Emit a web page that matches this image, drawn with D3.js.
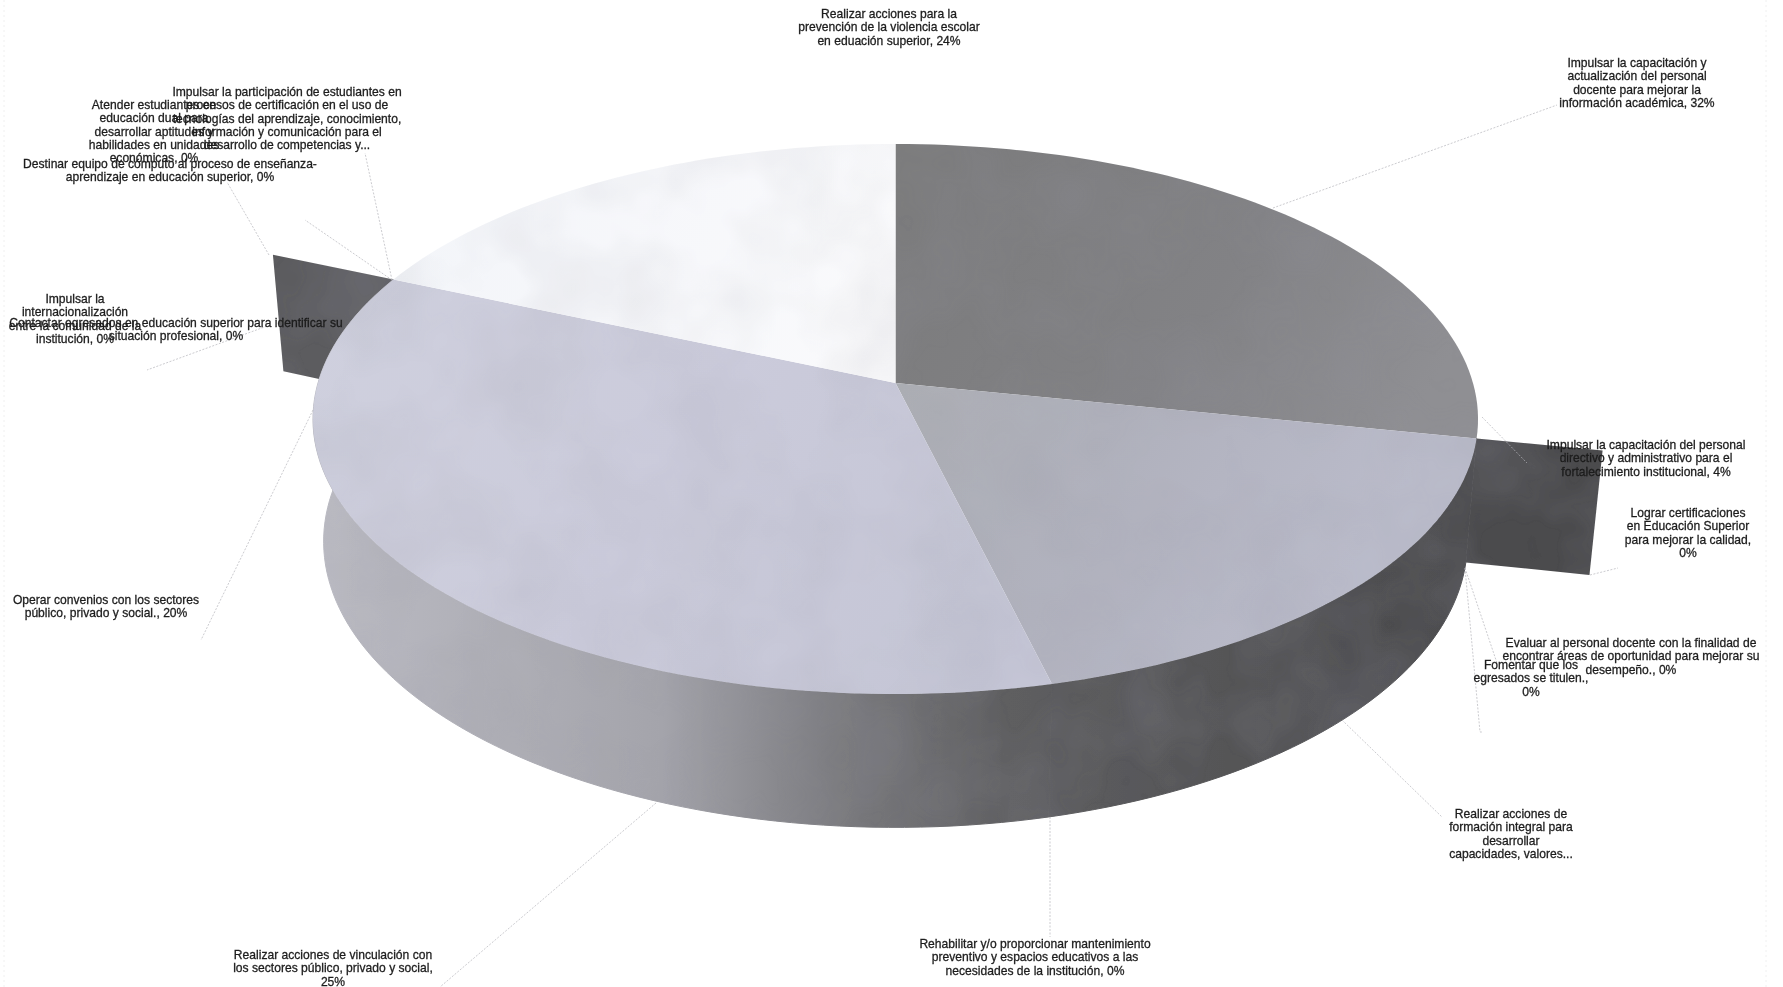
<!DOCTYPE html>
<html lang="es">
<head>
<meta charset="utf-8">
<title>Acciones</title>
<script src="https://cdn.jsdelivr.net/npm/d3@7"></script>
<style>
	html, body { margin: 0; padding: 0; background: #fff; }
	svg { display: block; }
	text { font-family: "Liberation Sans", Arial, sans-serif; font-size: 12.1px; fill: #1c1c1c; text-anchor: middle; stroke: #1c1c1c; stroke-width: 0.28px; }
</style>
</head>
<body>
<div id="chart"></div>
<script>
// slices, clockwise from 12 o'clock. shares are read off the drawn angles,
// the printed percentages on the labels do not add up to the same thing
var sliceNames = [
	"Impulsar la capacitación y actualización del personal docente",
	"Impulsar la capacitación del personal directivo y administrativo",
	"Realizar acciones de formación integral",
	"Realizar acciones de vinculación",
	"Destinar equipo de cómputo",
	"Realizar acciones para la prevención de la violencia escolar"
];
var sliceShares = [28.2, 0, 18.0, 35.4, 0, 18.4];

var labelLines = [
	["Realizar acciones para la", "prevención de la violencia escolar", "en eduación superior, 24%"],
	["Impulsar la capacitación y", "actualización del personal", "docente para mejorar la", "información académica, 32%"],
	["Atender estudiantes en", "educación dual para", "desarrollar aptitudes y", "habilidades en unidades", "económicas, 0%"],
	["Impulsar la participación de estudiantes en", "procesos de certificación en el uso de", "tecnologías del aprendizaje, conocimiento,", "información y comunicación para el", "desarrollo de competencias y..."],
	["Destinar equipo de cómputo al proceso de enseñanza-", "aprendizaje en educación superior, 0%"],
	["Impulsar la", "internacionalización", "entre la comunidad de la", "institución, 0%"],
	["Contactar egresados en educación superior para identificar su", "situación profesional, 0%"],
	["Operar convenios con los sectores", "público, privado y social., 20%"],
	["Realizar acciones de vinculación con", "los sectores público, privado y social,", "25%"],
	["Rehabilitar y/o proporcionar mantenimiento", "preventivo y espacios educativos a las", "necesidades de la institución, 0%"],
	["Realizar acciones de", "formación integral para", "desarrollar", "capacidades, valores..."],
	["Impulsar la capacitación del personal", "directivo y administrativo para el", "fortalecimiento institucional, 4%"],
	["Lograr certificaciones", "en Educación Superior", "para mejorar la calidad,", "0%"],
	["Evaluar al personal docente con la finalidad de", "encontrar áreas de oportunidad para mejorar su", "desempeño., 0%"],
	["Fomentar que los", "egresados se titulen.,", "0%"]
];

// layout, kept apart from the data above
var width = 1783, height = 987;
var cx = 895.5, cy = 383;
var radiusX = 577.5, radiusY = 270.3;
var tiltK = 0.131, depthM = 0.0183, depthY = 124;
var lineGap = 13.2;

var sliceExplode = [1, 1.21, 1, 1, 1.256, 1];
var sliceFill = ["url(#faceDark)", "#4b4b4d", "url(#faceMid)", "url(#faceLav)", "#5c5c5e", "url(#faceWhite)"];

// center x and y of first line, same order as labelLines
var labelAt = [
	[889, 14], [1637, 63], [154, 105], [287, 92], [170, 164], [75, 299], [176, 323], [106, 600],
	[333, 955], [1035, 944], [1511, 814], [1646, 445], [1688, 513], [1631, 643], [1531, 665]
];

var leaders = [
	[[1273, 208], [1557, 105]],
	[[392, 280], [365, 153]],
	[[392, 280], [305, 220]],
	[[269, 255], [227, 182]],
	[[270, 325], [147, 370]],
	[[313, 410], [201, 640]],
	[[656, 803], [440, 987]],
	[[1050, 817], [1050, 937]],
	[[1342, 720], [1442, 817]],
	[[1482, 417], [1527, 463]],
	[[1590, 575], [1618, 568]],
	[[1465, 568], [1497, 663]],
	[[1465, 568], [1480, 732], [1483, 732]]
];

// perspective: top plane of the pie is at depth 0, the bottom plane at depth 1
function project(angle, r, depth) {
	var X = Math.sin(angle) * r;
	var Y = -Math.cos(angle) * r;
	var w = 1 - tiltK * Y + depthM * depth;
	return [cx + radiusX * X / w, cy + (radiusY * Y + depthY * depth) / w];
}

var svg = d3.select("#chart").append("svg")
	.attr("width", width)
	.attr("height", height);

var defs = svg.append("defs");

function addGradient(id, x1, y1, x2, y2, stops) {
	var g = defs.append("linearGradient")
		.attr("id", id)
		.attr("gradientUnits", "userSpaceOnUse")
		.attr("x1", x1).attr("y1", y1)
		.attr("x2", x2).attr("y2", y2);
	stops.forEach(function(s) {
		g.append("stop").attr("offset", s[0]).attr("stop-color", s[1]);
	});
}

addGradient("faceDark", 900, 144, 1400, 440, [[0, "#7b7b7c"], [0.6, "#828285"], [1, "#8f8f93"]]);
addGradient("faceMid", 900, 390, 1300, 650, [[0, "#acaeb4"], [0.5, "#b1b2be"], [1, "#babbca"]]);
addGradient("faceLav", 320, 300, 1000, 680, [[0, "#cfd0de"], [0.5, "#cbcbdb"], [1, "#c4c5d5"]]);
addGradient("faceWhite", 400, 200, 900, 380, [[0, "#f3f5f9"], [1, "#fafafc"]]);
addGradient("wall", 315, 0, 1470, 0, [[0, "#bbbbc3"], [0.3, "#a4a4ab"], [0.44, "#7e7e82"], [0.6, "#5e5e60"], [1, "#4b4b4d"]]);

// blotchy scan texture
var grain = defs.append("filter").attr("id", "grain")
	.attr("x", 0).attr("y", 0).attr("width", 1).attr("height", 1);
grain.append("feTurbulence")
	.attr("type", "fractalNoise").attr("baseFrequency", 0.012)
	.attr("numOctaves", 3).attr("seed", 4).attr("result", "noise");
grain.append("feColorMatrix").attr("in", "noise").attr("type", "matrix")
	.attr("values", "0 0 0 0 0.3  0 0 0 0 0.3  0 0 0 0 0.35  0.3 0 0 0 -0.1")
	.attr("result", "tint");
grain.append("feComposite").attr("in", "tint").attr("in2", "SourceAlpha").attr("operator", "in").attr("result", "clipped");
grain.append("feMerge").selectAll("feMergeNode")
	.data(["SourceGraphic", "clipped"])
	.enter().append("feMergeNode").attr("in", function(d) { return d; });

defs.append("filter").attr("id", "soft")
	.append("feGaussianBlur").attr("stdDeviation", 0.35);

// faint page edges of the scan
svg.selectAll("line.edge")
	.data([4, 1766])
	.enter().append("line")
	.attr("class", "edge")
	.attr("x1", function(d) { return d; }).attr("x2", function(d) { return d; })
	.attr("y1", 0).attr("y2", height)
	.attr("stroke", "#f0f0f0").attr("stroke-dasharray", "2,3");

var pie = d3.pie().sort(null);
var arcs = pie(sliceShares);
var line = d3.line();
var chart = svg.append("g").attr("filter", "url(#grain)");

function rimPoints(a0, a1, depth) {
	var n = Math.max(2, Math.ceil((a1 - a0) * 40));
	return d3.range(n + 1).map(function(i) {
		return project(a0 + (a1 - a0) * i / n, 1, depth);
	});
}

// zero share slices, pulled out of the pie: only their cut wall shows
arcs.forEach(function(d, i) {
	if (d.value > 0) return;
	var a = d.startAngle, r = sliceExplode[i];
	chart.append("path")
		.attr("d", line([project(a, 1, 0), project(a, r, 0), project(a, r, 1), project(a, 1, 1)]) + "Z")
		.attr("fill", sliceFill[i]);
});

// outer walls, the two slices on the far side have none that shows
arcs.forEach(function(d) {
	if (d.value === 0) return;
	if (Math.cos((d.startAngle + d.endAngle) / 2) > 0) return;
	var top = rimPoints(d.startAngle, d.endAngle, 0);
	var bottom = rimPoints(d.startAngle, d.endAngle, 1).reverse();
	chart.append("path")
		.attr("d", line(top.concat(bottom)) + "Z")
		.attr("fill", "url(#wall)")
		.attr("stroke", "url(#wall)").attr("stroke-width", 1);
});

// top faces
arcs.forEach(function(d, i) {
	if (d.value === 0) return;
	var apex = [cx, cy];
	chart.append("path")
		.attr("d", line([apex].concat(rimPoints(d.startAngle, d.endAngle, 0))) + "Z")
		.attr("fill", sliceFill[i])
		.append("title").text(sliceNames[i]);
});

svg.selectAll("path.leader")
	.data(leaders)
	.enter().append("path")
	.attr("class", "leader")
	.attr("d", line)
	.attr("fill", "none")
	.attr("stroke", "#b4b4ba")
	.attr("stroke-width", 0.7)
	.attr("stroke-dasharray", "2,1.5");

var labels = svg.append("g").attr("filter", "url(#soft)");
labelLines.forEach(function(lines, i) {
	var t = labels.append("text")
		.attr("x", labelAt[i][0])
		.attr("y", labelAt[i][1])
		.attr("dy", "0.35em");
	lines.forEach(function(s, k) {
		t.append("tspan")
			.attr("x", labelAt[i][0])
			.attr("y", labelAt[i][1] + k * lineGap)
			.attr("dy", "0.35em")
			.text(s);
	});
});
</script>
</body>
</html>
